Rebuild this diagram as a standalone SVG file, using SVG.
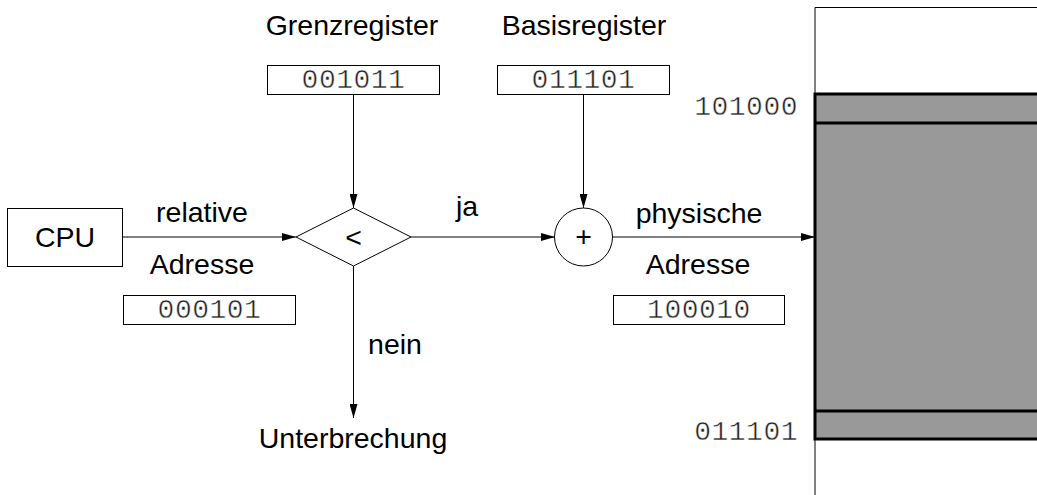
<svg xmlns="http://www.w3.org/2000/svg" width="1037" height="495" viewBox="0 0 1037 495">
  <style>
    .label { font-family: "Liberation Sans", Arial, sans-serif; font-size: 28.5px; fill: #000; text-anchor: middle; }
    .bits, .addr { font-family: "Liberation Mono", "Courier New", monospace; font-size: 28px; fill: #222; stroke: #fff; stroke-width: 0.5px; letter-spacing: 0.5px; }
    .bits { text-anchor: middle; }
    .addr { text-anchor: end; }
    .box { fill: #fff; stroke: #000; stroke-width: 1; }
    .wire { fill: none; stroke: #000; stroke-width: 1; }
    .mem { fill: #999; stroke: #000; stroke-width: 3; }
    .thick { stroke: #000; stroke-width: 3; }
  </style>
  <defs>
    <marker id="arrow" viewBox="0 0 14 8" refX="14" refY="4" markerWidth="14" markerHeight="8" markerUnits="userSpaceOnUse" orient="auto">
      <path d="M0,0 L14,4 L0,8 Z" fill="#000"/>
    </marker>
  </defs>

  <rect width="1037" height="495" fill="#fff"/>

  <!-- memory column -->
  <g id="memory">
    <path class="wire" d="M815,495 V7.5 H1037"/>
    <rect class="mem" x="815" y="94" width="230" height="345"/>
    <line class="thick" x1="815" y1="123" x2="1037" y2="123"/>
    <line class="thick" x1="815" y1="411" x2="1037" y2="411"/>
    <text class="addr" x="798" y="115">101000</text>
    <text class="addr" x="798" y="440">011101</text>
  </g>

  <!-- connectors -->
  <g id="connectors">
    <line class="wire" x1="123" y1="237" x2="296" y2="237" marker-end="url(#arrow)"/>
    <line class="wire" x1="353.5" y1="95" x2="353.5" y2="208" marker-end="url(#arrow)"/>
    <line class="wire" x1="411" y1="237" x2="555" y2="237" marker-end="url(#arrow)"/>
    <line class="wire" x1="583.5" y1="95" x2="583.5" y2="208" marker-end="url(#arrow)"/>
    <line class="wire" x1="612" y1="237" x2="815" y2="237" marker-end="url(#arrow)"/>
    <line class="wire" x1="353.5" y1="266" x2="353.5" y2="418" marker-end="url(#arrow)"/>
    <text class="label" x="202" y="222">relative</text>
    <text class="label" x="202" y="274">Adresse</text>
    <text class="label" x="467" y="216">ja</text>
    <text class="label" x="699" y="223">physische</text>
    <text class="label" x="698" y="274">Adresse</text>
    <text class="label" x="395" y="354">nein</text>
  </g>

  <g id="cpu">
    <rect class="box" x="7.5" y="208.5" width="115" height="58"/>
    <text class="label" x="65" y="247">CPU</text>
  </g>

  <g id="relative-address">
    <rect class="box" x="123.5" y="295.5" width="172" height="29"/>
    <text class="bits" x="209.5" y="318">000101</text>
  </g>

  <g id="limit-register">
    <text class="label" x="352" y="35">Grenzregister</text>
    <rect class="box" x="267.5" y="65.5" width="172" height="29"/>
    <text class="bits" x="353.5" y="88">001011</text>
  </g>

  <g id="base-register">
    <text class="label" x="584" y="35">Basisregister</text>
    <rect class="box" x="497.5" y="65.5" width="172" height="29"/>
    <text class="bits" x="583.5" y="88">011101</text>
  </g>

  <g id="compare">
    <polygon class="box" points="296,237 353.5,208 411,237 353.5,266"/>
    <text class="label" x="353.5" y="247">&lt;</text>
  </g>

  <g id="adder">
    <circle class="box" cx="583.5" cy="237" r="29"/>
    <text class="label" x="583.5" y="246">+</text>
  </g>

  <g id="physical-address">
    <rect class="box" x="613.5" y="295.5" width="171" height="29"/>
    <text class="bits" x="699" y="318">100010</text>
  </g>

  <g id="interrupt">
    <text class="label" x="353" y="448">Unterbrechung</text>
  </g>
</svg>
